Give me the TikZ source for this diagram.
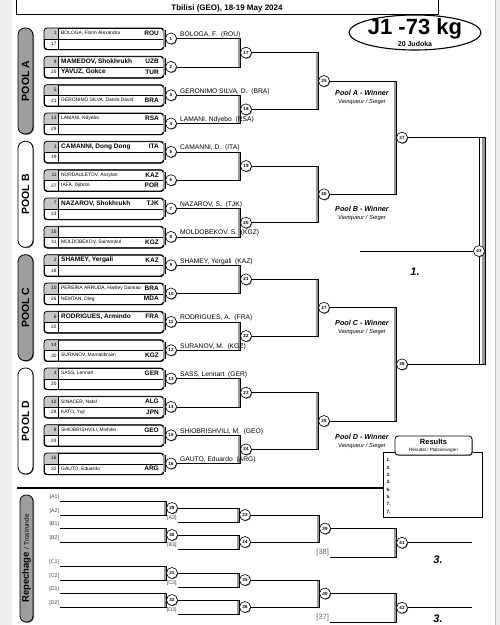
\documentclass[tikz,border=0pt]{standalone}
\usepackage{fontspec}
\setmainfont{Liberation Sans}
\usetikzlibrary{calc,shadows,shapes.geometric}
\pgfdeclarelayer{bg}
\pgfdeclarelayer{paper}
\pgfsetlayers{paper,bg,main}
\newcommand\fsz[1]{\fontsize{#1}{#1}\selectfont}
\tikzset{
 wire/.style={line width=0.6pt},
 band/.style={draw=black!40, line width=2.4pt},
 circ/.style={circle, draw, fill=white, line width=0.6pt, minimum size=11pt, inner sep=0pt,
   font=\fsz{4.5}\bfseries, drop shadow={shadow xshift=0.7pt, shadow yshift=-0.7pt, fill=black!60, opacity=1}},
 athbox/.style={draw, rounded corners=3pt, line width=0.8pt, minimum width=119pt, minimum height=21pt, inner sep=0pt, anchor=north west},
 seedtxt/.style={anchor=east, inner sep=0.5pt, font=\fsz{4.8}},
 bigname/.style={anchor=west, inner sep=0.5pt, font=\fsz{6.5}\bfseries},
 smallname/.style={anchor=west, inner sep=0.5pt, font=\fsz{4.9}},
 ctytxt/.style={anchor=east, inner sep=0.5pt, font=\fsz{6.5}\bfseries},
 wintxt/.style={anchor=south west, inner sep=0.6pt, font=\fsz{6.7}},
 pooltag/.style={draw, rounded corners=7pt, line width=0.8pt, minimum width=15pt, minimum height=106pt, inner sep=0pt,
   drop shadow={shadow xshift=1pt, shadow yshift=-0.8pt, fill=black!55, opacity=1}},
 pooltxt/.style={rotate=90, font=\fsz{10.5}\bfseries, inner sep=0pt},
 pwin/.style={font=\fsz{7.2}\bfseries\itshape, inner sep=0pt},
 psub/.style={font=\fsz{5.8}\itshape, inner sep=0pt},
 replab/.style={anchor=south east, inner sep=0.8pt, font=\fsz{5.3}, text=black!75},
 placetxt/.style={font=\fsz{11}\bfseries\itshape, inner sep=0pt},
 restxt/.style={anchor=west, font=\fsz{4.6}\bfseries, inner sep=0pt}
}
\newcommand\athbox[2]{%
 \fill[black!45, rounded corners=3pt] (45,#2+1) rectangle (164.2,#2+22);
 \node[athbox, fill=white] (b#1) at (44,#2) {};
 \begin{scope}
  \clip[rounded corners=3pt] (44,#2) rectangle (163,#2+21);
  \fill[black!22] (44,#2) rectangle (58,#2+10.5);
 \end{scope}
 \draw[line width=0.5pt] (b#1.west) -- (b#1.east);
 \draw[line width=0.5pt] (58,#2) -- (58,#2+21);
 \draw[rounded corners=3pt, line width=0.8pt] (b#1.north west) rectangle (b#1.south east);
 \fill[black!40] (163,#2+2) rectangle (165.5,#2+19);
 \draw[wire] (165.5,#2+2) -- (165.5,#2+19);
 \node[circ] (m#1) at (171,#2+10.5) {#1};
}
\newcommand\arow[6]{%
 \node[seedtxt] (s#1) at (57.2,#2) {#3};
 \node[#4] (n#1) at (60.5,#2) {#5};
 \node[ctytxt] (c#1) at (159.5,#2) {#6};
}
\newcommand\brk[3]{%
 \begin{pgfonlayer}{bg}
 \draw[band] ($(m#3.west |- #1)+(-1.4,0)$) -- ($(m#3.west |- #2)+(-1.4,0)$);
 \draw[wire] (#1) -| (m#3.west) |- (#2);
 \end{pgfonlayer}
}
\begin{document}
\begin{tikzpicture}[x=1pt,y=-1pt]
\useasboundingbox (0,0) rectangle (500,625);
\begin{pgfonlayer}{paper}
\fill[black!7] (0,0) rectangle (500,625);
\fill[white] (12,0) rectangle (495,625);
\draw[black!25, line width=1pt] (495,0) -- (495,625);
\end{pgfonlayer}

% header
\node[draw, line width=0.9pt, minimum width=422pt, minimum height=40pt, anchor=south west, inner sep=0] (hdr) at (16,15) {};
\node[font=\fsz{8}\bfseries, inner sep=0] (loc) at (227,8) {Tbilisi (GEO), 18-19 May 2024};
\node[ellipse, draw, line width=1.1pt, fill=white, minimum width=132pt, minimum height=35pt, inner sep=0] (cls) at (415,32.5) {};
\node[font=\fsz{22}\bfseries, inner sep=0] (clsname) at (415,28.5) {J1 -73 kg};
\node[font=\fsz{7}\bfseries, inner sep=0] (clsn) at (415,43.5) {20 Judoka};

% pool tags
\node[pooltag, fill=black!38] (pA) at (25.5,81) {};
\node[pooltxt] (tA) at (pA) {POOL A};
\node[pooltag, fill=white] (pB) at (25.5,194.3) {};
\node[pooltxt] (tB) at (pB) {POOL B};
\node[pooltag, fill=black!38] (pC) at (25.5,307.7) {};
\node[pooltxt] (tC) at (pC) {POOL C};
\node[pooltag, fill=white] (pD) at (25.5,421) {};
\node[pooltxt] (tD) at (pD) {POOL D};

% athlete boxes
\athbox{1}{28}
\arow{1t}{33.25}{1}{smallname}{BOLOGA, Florin Alexandru}{ROU}
\arow{1b}{43.75}{17}{smallname}{}{}
\athbox{2}{56.3}
\arow{2t}{61.55}{9}{bigname}{MAMEDOV, Shokhrukh}{UZB}
\arow{2b}{72.05}{25}{bigname}{YAVUZ, Gokce}{TUR}
\athbox{3}{84.7}
\arow{3t}{89.95}{5}{smallname}{}{}
\arow{3b}{100.45}{21}{smallname}{GERONIMO SILVA, Danilo David}{BRA}
\athbox{4}{113}
\arow{4t}{118.25}{13}{smallname}{LAMANI, Ndyebo}{RSA}
\arow{4b}{128.75}{29}{smallname}{}{}
\athbox{5}{141.3}
\arow{5t}{146.55}{3}{bigname}{CAMANNI, Dong Dong}{ITA}
\arow{5b}{157.05}{19}{smallname}{}{}
\athbox{6}{169.7}
\arow{6t}{174.95}{11}{smallname}{NURDAULETOV, Assylan}{KAZ}
\arow{6b}{185.45}{27}{smallname}{IAFA, Djibrilo}{POR}
\athbox{7}{198}
\arow{7t}{203.25}{7}{bigname}{NAZAROV, Shokhrukh}{TJK}
\arow{7b}{213.75}{23}{smallname}{}{}
\athbox{8}{226.3}
\arow{8t}{231.55}{15}{smallname}{}{}
\arow{8b}{242.05}{31}{smallname}{MOLDOBEKOV, Suimonkul}{KGZ}
\athbox{9}{254.7}
\arow{9t}{259.95}{2}{bigname}{SHAMEY, Yergali}{KAZ}
\arow{9b}{270.45}{18}{smallname}{}{}
\athbox{10}{283}
\arow{10t}{288.25}{10}{smallname}{PEREIRA ARRUDA, Harlley Damiao}{BRA}
\arow{10b}{298.75}{26}{smallname}{NEMTAN, Oleg}{MDA}
\athbox{11}{311.3}
\arow{11t}{316.55}{6}{bigname}{RODRIGUES, Armindo}{FRA}
\arow{11b}{327.05}{22}{smallname}{}{}
\athbox{12}{339.7}
\arow{12t}{344.95}{14}{smallname}{}{}
\arow{12b}{355.45}{30}{smallname}{SURANOV, Mamatibraim}{KGZ}
\athbox{13}{368}
\arow{13t}{373.25}{4}{smallname}{SASS, Lennart}{GER}
\arow{13b}{383.75}{20}{smallname}{}{}
\athbox{14}{396.3}
\arow{14t}{401.55}{12}{smallname}{SINACER, Nabil}{ALG}
\arow{14b}{412.05}{28}{smallname}{KATO, Yuji}{JPN}
\athbox{15}{424.7}
\arow{15t}{429.95}{8}{smallname}{SHIOBRISHVILI, Mishiko}{GEO}
\arow{15b}{440.45}{24}{smallname}{}{}
\athbox{16}{453}
\arow{16t}{458.25}{16}{smallname}{}{}
\arow{16b}{468.75}{32}{smallname}{GAUTO, Eduardo}{ARG}

% later-round circles
\node[circ] (m17) at (246,52.65) {17};
\node[circ] (m18) at (246,109.35) {18};
\node[circ] (m19) at (246,166) {19};
\node[circ] (m20) at (246,222.65) {20};
\node[circ] (m21) at (246,279.35) {21};
\node[circ] (m22) at (246,336) {22};
\node[circ] (m23) at (246,392.65) {23};
\node[circ] (m24) at (246,449.35) {24};
\node[circ] (m25) at (324,81) {25};
\node[circ] (m26) at (324,194.3) {26};
\node[circ] (m27) at (324,307.7) {27};
\node[circ] (m28) at (324,421) {28};
\node[circ] (m37) at (402,137.65) {37};
\node[circ] (m38) at (402,364.35) {38};
\node[circ] (m43) at (479,251) {43};

% winner names
\node[wintxt] (w1) at ([xshift=2.5pt]m1.east) {BOLOGA, F.\ \ (ROU)};
\node[wintxt] (w3) at ([xshift=2.5pt]m3.east) {GERONIMO SILVA, D.\ \ (BRA)};
\node[wintxt] (w4) at ([xshift=2.5pt]m4.east) {LAMANI, Ndyebo\ \ (RSA)};
\node[wintxt] (w5) at ([xshift=2.5pt]m5.east) {CAMANNI, D.\ \ (ITA)};
\node[wintxt] (w7) at ([xshift=2.5pt]m7.east) {NAZAROV, S.\ \ (TJK)};
\node[wintxt] (w8) at ([xshift=2.5pt]m8.east) {MOLDOBEKOV, S.\ \ (KGZ)};
\node[wintxt] (w9) at ([xshift=2.5pt]m9.east) {SHAMEY, Yergali\ \ (KAZ)};
\node[wintxt] (w11) at ([xshift=2.5pt]m11.east) {RODRIGUES, A.\ \ (FRA)};
\node[wintxt] (w12) at ([xshift=2.5pt]m12.east) {SURANOV, M.\ \ (KGZ)};
\node[wintxt] (w13) at ([xshift=2.5pt]m13.east) {SASS, Lennart\ \ (GER)};
\node[wintxt] (w15) at ([xshift=2.5pt]m15.east) {SHIOBRISHVILI, M.\ \ (GEO)};
\node[wintxt] (w16) at ([xshift=2.5pt]m16.east) {GAUTO, Eduardo\ \ (ARG)};

% brackets
\brk{m1.east}{m2.east}{17}
\brk{m3.east}{m4.east}{18}
\brk{m5.east}{m6.east}{19}
\brk{m7.east}{m8.east}{20}
\brk{m9.east}{m10.east}{21}
\brk{m11.east}{m12.east}{22}
\brk{m13.east}{m14.east}{23}
\brk{m15.east}{m16.east}{24}
\brk{m17.east}{m18.east}{25}
\brk{m19.east}{m20.east}{26}
\brk{m21.east}{m22.east}{27}
\brk{m23.east}{m24.east}{28}
\brk{m25.east}{m26.east}{37}
\brk{m27.east}{m28.east}{38}
\begin{pgfonlayer}{bg}
\draw[band] ($(m43.east |- m37.east)+(-1.4,0)$) -- ($(m43.east |- m38.east)+(-1.4,0)$);
\draw[line width=0.4pt] (m43.center |- m37.east) -- (m43.center |- m38.east);
\draw[wire] (m37.east) -| (m43.east) |- (m38.east);
\end{pgfonlayer}
\coordinate (w43) at (360,251);
\draw[wire] (m43.west) -- (w43);
\node[placetxt] (first) at (415,272) {1.};

% pool winners
\node[pwin] (pwA) at (362,93) {Pool A - Winner};
\node[psub] (psA) at (362,101.5) {Vainqueur / Sieger};
\node[pwin] (pwB) at (362,209) {Pool B - Winner};
\node[psub] (psB) at (362,217.5) {Vainqueur / Sieger};
\node[pwin] (pwC) at (362,323) {Pool C - Winner};
\node[psub] (psC) at (362,331.5) {Vainqueur / Sieger};
\node[pwin] (pwD) at (362,437) {Pool D - Winner};
\node[psub] (psD) at (362,445.5) {Vainqueur / Sieger};

% results
\node[draw, line width=0.9pt, fill=white, minimum width=99pt, minimum height=65pt, inner sep=0, anchor=north west] (res) at (383,452) {};
\node[draw, line width=0.8pt, fill=white, rounded corners=3pt, minimum width=77pt, minimum height=19pt, inner sep=0,
  drop shadow={shadow xshift=0.8pt, shadow yshift=-0.8pt, fill=black!55, opacity=1}] (restab) at (433.5,445.5) {};
\node[font=\fsz{7.5}\bfseries, inner sep=0] (resT) at (433.5,441.5) {Results};
\node[font=\fsz{4.6}, inner sep=0] (resS) at (433.5,450) {Résultat / Platzierungen};
\node[restxt] (r1) at (386.5,460) {1.};
\node[restxt] (r2) at (386.5,467.4) {2.};
\node[restxt] (r3) at (386.5,474.8) {3.};
\node[restxt] (r4) at (386.5,482.2) {3.};
\node[restxt] (r5) at (386.5,489.6) {5.};
\node[restxt] (r6) at (386.5,497) {5.};
\node[restxt] (r7) at (386.5,504.4) {7.};
\node[restxt] (r8) at (386.5,511.8) {7.};
\coordinate (sepL) at (17,488);
\draw[line width=1.3pt] (sepL) -- (res.west |- sepL);

% repechage tag
\node[draw, rounded corners=6pt, line width=0.8pt, fill=black!38, minimum width=13pt, minimum height=127pt, inner sep=0,
  drop shadow={shadow xshift=1pt, shadow yshift=-0.8pt, fill=black!55, opacity=1}] (rep) at (26.5,558.5) {};
\node[rotate=90, inner sep=0] (reptxt) at (rep) {{\fsz{9.5}\bfseries Repechage} {\fsz{6.5}/ Trostrunde}};

% repechage coordinates and labels
\coordinate (pA1) at (60,501); \node[replab] (lA1) at (pA1) {[A1]};
\coordinate (pA2) at (60,515); \node[replab] (lA2) at (pA2) {[A2]};
\coordinate (pB1) at (60,528); \node[replab] (lB1) at (pB1) {[B1]};
\coordinate (pB2) at (60,542); \node[replab] (lB2) at (pB2) {[B2]};
\coordinate (pC1) at (60,566); \node[replab] (lC1) at (pC1) {[C1]};
\coordinate (pC2) at (60,580); \node[replab] (lC2) at (pC2) {[C2]};
\coordinate (pD1) at (60,593); \node[replab] (lD1) at (pD1) {[D1]};
\coordinate (pD2) at (60,607); \node[replab] (lD2) at (pD2) {[D2]};
\coordinate (pA3) at (177.5,522); \node[replab] (lA3) at (pA3) {[A3]};
\coordinate (pB3) at (177.5,549); \node[replab] (lB3) at (pB3) {[B3]};
\coordinate (pC3) at (177.5,587); \node[replab] (lC3) at (pC3) {[C3]};
\coordinate (pD3) at (177.5,614); \node[replab] (lD3) at (pD3) {[D3]};
\coordinate (p38) at (330,557); \node[replab, font=\fsz{7.5}, text=black!60] (l38) at (p38) {[38]};
\coordinate (p37) at (330,622); \node[replab, font=\fsz{7.5}, text=black!60] (l37) at (p37) {[37]};

\node[circ] (m29) at (172,508) {29};
\node[circ] (m30) at (172,535) {30};
\node[circ] (m31) at (172,573) {31};
\node[circ] (m32) at (172,600) {32};
\node[circ] (m33) at (245,515) {33};
\node[circ] (m34) at (245,542) {34};
\node[circ] (m35) at (245,580) {35};
\node[circ] (m36) at (245,607) {36};
\node[circ] (m39) at (325,528.5) {39};
\node[circ] (m40) at (325,593.5) {40};
\node[circ] (m41) at (402,542.75) {41};
\node[circ] (m42) at (402,607.75) {42};

\brk{pA1}{pA2}{29}
\brk{pB1}{pB2}{30}
\brk{pC1}{pC2}{31}
\brk{pD1}{pD2}{32}
\brk{m29.east}{pA3}{33}
\brk{m30.east}{pB3}{34}
\brk{m31.east}{pC3}{35}
\brk{m32.east}{pD3}{36}
\brk{m33.east}{m34.east}{39}
\brk{m35.east}{m36.east}{40}
\brk{m39.east}{p38}{41}
\brk{m40.east}{p37}{42}
\coordinate (e41) at (472,542.75);
\coordinate (e42) at (472,607.75);
\draw[wire] (m41.east) -- (e41);
\draw[wire] (m42.east) -- (e42);
\node[placetxt] (third1) at (438,560) {3.};
\node[placetxt] (third2) at (438,619) {3.};
\end{tikzpicture}
\end{document}
